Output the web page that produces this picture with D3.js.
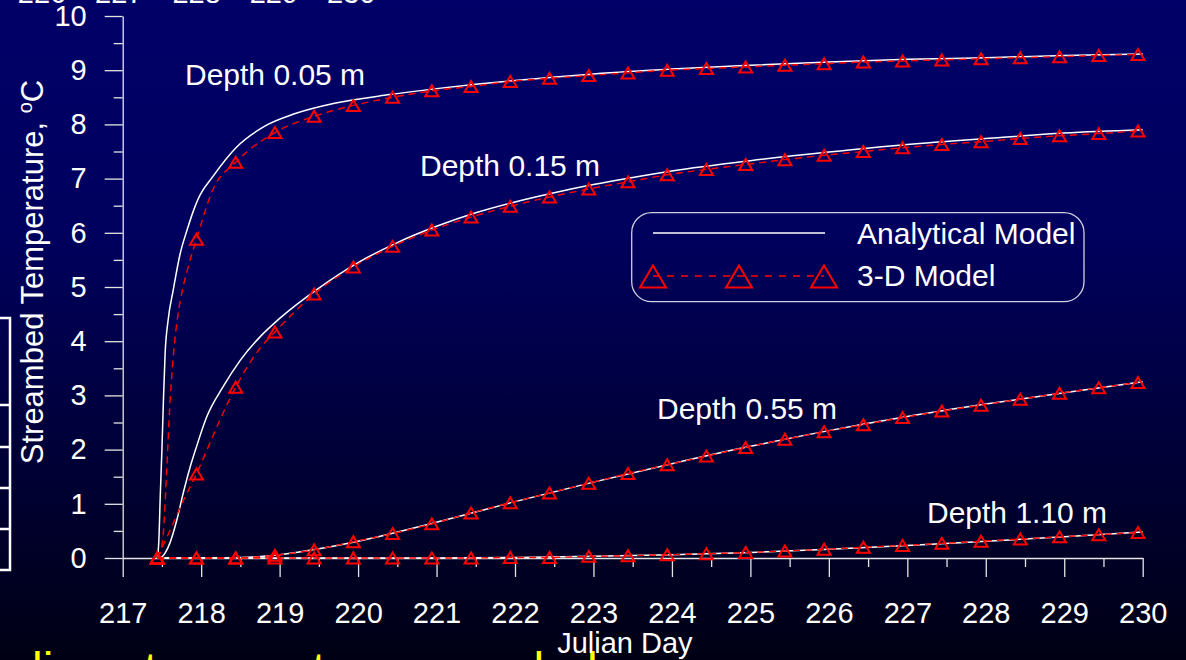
<!DOCTYPE html>
<html>
<head>
<meta charset="utf-8">
<script src="https://cdn.jsdelivr.net/npm/d3@7"></script>
<style>
  html, body { margin: 0; padding: 0; background: #000033; overflow: hidden; }
  svg { display: block; }
  text { font-family: "Liberation Sans", Arial, Helvetica, sans-serif; }
</style>
</head>
<body>
<svg id="chart" width="1186" height="660"></svg>
<script>
// ---- Data ---------------------------------------------------------------

// Julian days of the 3-D model output markers
const markerDays = [217.44, 217.94, 218.44, 218.94, 219.44, 219.94, 220.44, 220.94,
  221.44, 221.94, 222.44, 222.94, 223.44, 223.94, 224.44, 224.94, 225.44, 225.94,
  226.44, 226.94, 227.44, 227.94, 228.44, 228.94, 229.44, 229.94];

// 3-D model streambed temperature (deg C) at the marker days
const model005 = [0, 5.88, 7.3, 7.85, 8.15, 8.35, 8.5, 8.62, 8.7, 8.79, 8.85, 8.9, 8.95,
  9.0, 9.03, 9.06, 9.09, 9.12, 9.15, 9.17, 9.19, 9.21, 9.23, 9.25, 9.27, 9.29];
const model015 = [0, 1.55, 3.15, 4.17, 4.87, 5.37, 5.75, 6.05, 6.29, 6.49, 6.66, 6.81, 6.94,
  7.07, 7.17, 7.26, 7.35, 7.43, 7.5, 7.57, 7.63, 7.68, 7.74, 7.79, 7.83, 7.88];
const model055 = [0, 0, 0, 0.05, 0.15, 0.3, 0.45, 0.63, 0.83, 1.02, 1.2, 1.38, 1.56,
  1.72, 1.88, 2.04, 2.19, 2.33, 2.46, 2.59, 2.71, 2.82, 2.93, 3.04, 3.14, 3.24];
const model110 = [0, 0, 0, 0, 0, 0, 0, 0, 0, 0.01, 0.01, 0.03, 0.04,
  0.06, 0.08, 0.1, 0.13, 0.16, 0.2, 0.23, 0.27, 0.31, 0.35, 0.39, 0.43, 0.47];

// 3-D model output between markers during the initial warming
const rise005 = [[217.48, 0.1], [217.52, 0.5], [217.56, 1.6], [217.6, 2.8], [217.65, 3.8],
  [217.7, 4.45], [217.77, 5.0], [217.84, 5.4], [218.15, 6.8]];
const rise015 = [[217.6, 0.5], [217.77, 1.05], [218.07, 1.98], [218.24, 2.55],
  [218.62, 3.6], [218.75, 3.87]];

// Analytical model solution [day, deg C]
const analytic005 = [[217.44, 0], [217.46, 0.3], [217.48, 1.2], [217.5, 2.0], [217.52, 2.95],
  [217.54, 3.75], [217.58, 4.4], [217.645, 4.95], [217.73, 5.6], [217.82, 6.05],
  [217.9, 6.4], [217.96, 6.62], [218.155, 7.05], [218.45, 7.58], [218.8, 7.96],
  [219.2, 8.2], [219.7, 8.39], [220.4, 8.55], [221, 8.66], [221.5, 8.74], [222, 8.81],
  [223, 8.93], [224, 9.02], [225, 9.09], [226, 9.15], [227, 9.2], [228, 9.23],
  [229, 9.27], [230, 9.3]];
const analytic015 = [[217.44, 0], [217.48, 0], [217.5, 0.02], [217.54, 0.09], [217.6, 0.27],
  [217.69, 0.7], [217.77, 1.19], [217.86, 1.68], [217.94, 2.05], [218.07, 2.6],
  [218.28, 3.16], [218.5, 3.65], [218.75, 4.08], [219, 4.42], [219.5, 4.98],
  [220, 5.45], [220.5, 5.82], [221, 6.12], [221.5, 6.37], [222, 6.57], [222.5, 6.74],
  [223, 6.89], [223.5, 7.02], [224, 7.14], [225, 7.33], [226, 7.49], [227, 7.63],
  [228, 7.74], [229, 7.84], [230, 7.9]];
const analytic055 = [[217.44, 0], [218, 0], [218.5, 0.01], [219, 0.06], [219.5, 0.17],
  [220, 0.31], [221, 0.66], [222, 1.04], [223, 1.4], [224, 1.74], [225, 2.06],
  [226, 2.35], [227, 2.61], [228, 2.84], [229, 3.05], [230, 3.25]];
const analytic110 = [[217.44, 0], [221, 0], [222, 0.01], [223, 0.03], [224, 0.06],
  [225, 0.1], [226, 0.16], [227, 0.23], [228, 0.31], [229, 0.39], [230, 0.48]];

// Axis ticks
const xTicks = [217, 218, 219, 220, 221, 222, 223, 224, 225, 226, 227, 228, 229, 230];
const xMinorTicks = [217.5, 218.5, 219.5, 220.5, 221.5, 222.5, 223.5, 224.5, 225.5,
  226.5, 227.5, 228.5, 229.5];
const yTicks = [0, 1, 2, 3, 4, 5, 6, 7, 8, 9, 10];
const yMinorTicks = [0.5, 1.5, 2.5, 3.5, 4.5, 5.5, 6.5, 7.5, 8.5, 9.5];

// Labels
const depthLabels = ["Depth 0.05 m", "Depth 0.15 m", "Depth 0.55 m", "Depth 1.10 m"];
const legendLabels = ["Analytical Model", "3-D Model"];
const prevAxisLabels = ["226", "227", "228", "229", "230"];

// ---- Drawing ------------------------------------------------------------

const svg = d3.select("#chart");
const W = 1186, H = 660;
const FONT = '"Liberation Sans", Arial, Helvetica, sans-serif';
const RED = "#ff0000";
const AXIS = "#e4e4e4";

// slide background
const defs = svg.append("defs");
const grad = defs.append("linearGradient").attr("id", "bg")
  .attr("x1", 0).attr("y1", 0).attr("x2", 0).attr("y2", 1);
grad.append("stop").attr("offset", "0").attr("stop-color", "#000068");
grad.append("stop").attr("offset", "0.35").attr("stop-color", "#00005e");
grad.append("stop").attr("offset", "1").attr("stop-color", "#000014");
svg.append("rect").attr("width", W).attr("height", H).attr("fill", "url(#bg)");

// axis labels of the neighbouring chart along the top edge
svg.append("g").selectAll("text").data(prevAxisLabels).join("text")
  .attr("x", (d, i) => 42 + i * 77.3).attr("y", 3)
  .attr("text-anchor", "middle").attr("font-size", 29).attr("fill", "#fff")
  .text(d => d);

// table cells at the left edge
const cells = svg.append("g").attr("stroke", "#fff").attr("stroke-width", 2.5).attr("fill", "none");
cells.append("path").attr("d", "M-5,318H10V570H-5");
[405, 447, 488, 529].forEach(v => cells.append("path").attr("d", `M-5,${v}H10`));

// yellow body text below the chart
svg.append("text").attr("x", 32).attr("y", 686)
  .attr("font-family", '"Liberation Serif", "Times New Roman", serif')
  .attr("font-size", 48).attr("fill", "#ffff00")
  .text("lines to scan two areas led");

// scales
const x = d3.scaleLinear().domain([217, 230]).range([122.7, 1142.7]);
const y = d3.scaleLinear().domain([0, 10]).range([558, 16]);

function styleAxis(g) {
  g.attr("font-family", FONT).attr("font-size", 29);
  g.selectAll("line").attr("stroke", AXIS).attr("stroke-width", 1.3);
  g.selectAll("path").attr("stroke", AXIS).attr("stroke-width", 1.3);
  g.selectAll("text").attr("fill", "#fff");
}

// y axis
svg.append("g").attr("transform", `translate(${x(217)},0)`)
  .call(d3.axisLeft(y).tickValues(yMinorTicks).tickSize(9).tickFormat(""))
  .call(g => g.select(".domain").remove())
  .call(styleAxis);
svg.append("g").attr("transform", `translate(${x(217)},0)`)
  .call(d3.axisLeft(y).tickValues(yTicks).tickSize(18).tickSizeOuter(0)
    .tickPadding(18).tickFormat(d3.format("d")))
  .call(styleAxis);

// x axis
svg.append("g").attr("transform", `translate(0,${y(0)})`)
  .call(d3.axisBottom(x).tickValues(xMinorTicks).tickSize(9).tickFormat(""))
  .call(g => g.select(".domain").remove())
  .call(styleAxis);
svg.append("g").attr("transform", `translate(0,${y(0)})`)
  .call(d3.axisBottom(x).tickValues(xTicks).tickSize(19).tickSizeOuter(0)
    .tickPadding(25).tickFormat(d3.format("d")))
  .call(styleAxis);

// axis titles
svg.append("text").attr("x", x(223.4)).attr("y", 653)
  .attr("text-anchor", "middle").attr("font-size", 29).attr("fill", "#fff")
  .text("Julian Day");
const yTitle = svg.append("text")
  .attr("transform", "translate(43,272) rotate(-90)")
  .attr("text-anchor", "middle").attr("font-size", 31).attr("fill", "#fff");
yTitle.append("tspan").text("Streambed Temperature, ");
yTitle.append("tspan").attr("font-size", 20).attr("dy", -11).text("o");
yTitle.append("tspan").attr("dy", 11).text("C");

// series
const line = d3.line().x(d => x(d[0])).y(d => y(d[1])).curve(d3.curveMonotoneX);

const analytic = [analytic005, analytic015, analytic055, analytic110];
const modelValues = [model005, model015, model055, model110];
const modelRise = [rise005, rise015, [], []];

const modelPoints = modelValues.map(vals => markerDays.map((d, i) => [d, vals[i]]));
const modelLines = modelPoints.map((pts, k) =>
  pts.concat(modelRise[k]).sort((a, b) => a[0] - b[0]));

const plot = svg.append("g");

plot.selectAll("path.analytic").data(analytic).join("path")
  .attr("class", "analytic")
  .attr("d", line).attr("fill", "none")
  .attr("stroke", "#ffffff").attr("stroke-width", 1.5);

plot.selectAll("path.model").data(modelLines).join("path")
  .attr("class", "model")
  .attr("d", line).attr("fill", "none")
  .attr("stroke", RED).attr("stroke-width", 1.4).attr("stroke-dasharray", "7,5");

function triangle(cx, cy, w, h) {
  return `M${cx},${cy - h / 2}L${cx + w / 2},${cy + h / 2}L${cx - w / 2},${cy + h / 2}Z`;
}

plot.selectAll("g.markers").data(modelPoints).join("g")
  .attr("class", "markers")
  .selectAll("path").data(d => d).join("path")
  .attr("d", d => triangle(x(d[0]), y(d[1]), 13, 11))
  .attr("fill", "none").attr("stroke", RED).attr("stroke-width", 2)
  .attr("stroke-linejoin", "miter");

// depth annotations
const depthPos = [[185, 85], [420, 176], [657, 419], [927, 523]];
svg.append("g").selectAll("text").data(depthLabels).join("text")
  .attr("x", (d, i) => depthPos[i][0]).attr("y", (d, i) => depthPos[i][1])
  .attr("font-size", 30).attr("fill", "#fff")
  .text(d => d);

// legend
const lg = svg.append("g");
lg.append("rect").attr("x", 631.7).attr("y", 212.7).attr("width", 452.3).attr("height", 89)
  .attr("rx", 20).attr("ry", 20)
  .attr("fill", "none").attr("stroke", "#cfcfe0").attr("stroke-width", 1.3);
lg.append("line").attr("x1", 653).attr("x2", 825).attr("y1", 233).attr("y2", 233)
  .attr("stroke", "#fff").attr("stroke-width", 1.5);
lg.append("line").attr("x1", 653).attr("x2", 824).attr("y1", 276).attr("y2", 276)
  .attr("stroke", RED).attr("stroke-width", 1.4).attr("stroke-dasharray", "7,7");
[653, 739, 824].forEach(cx => lg.append("path")
  .attr("d", triangle(cx, 276.5, 26, 22))
  .attr("fill", "none").attr("stroke", RED).attr("stroke-width", 2));
lg.selectAll("text").data(legendLabels).join("text")
  .attr("x", 857).attr("y", (d, i) => 244 + i * 41.5)
  .attr("font-size", 30).attr("fill", "#fff")
  .text(d => d);
</script>
</body>
</html>
